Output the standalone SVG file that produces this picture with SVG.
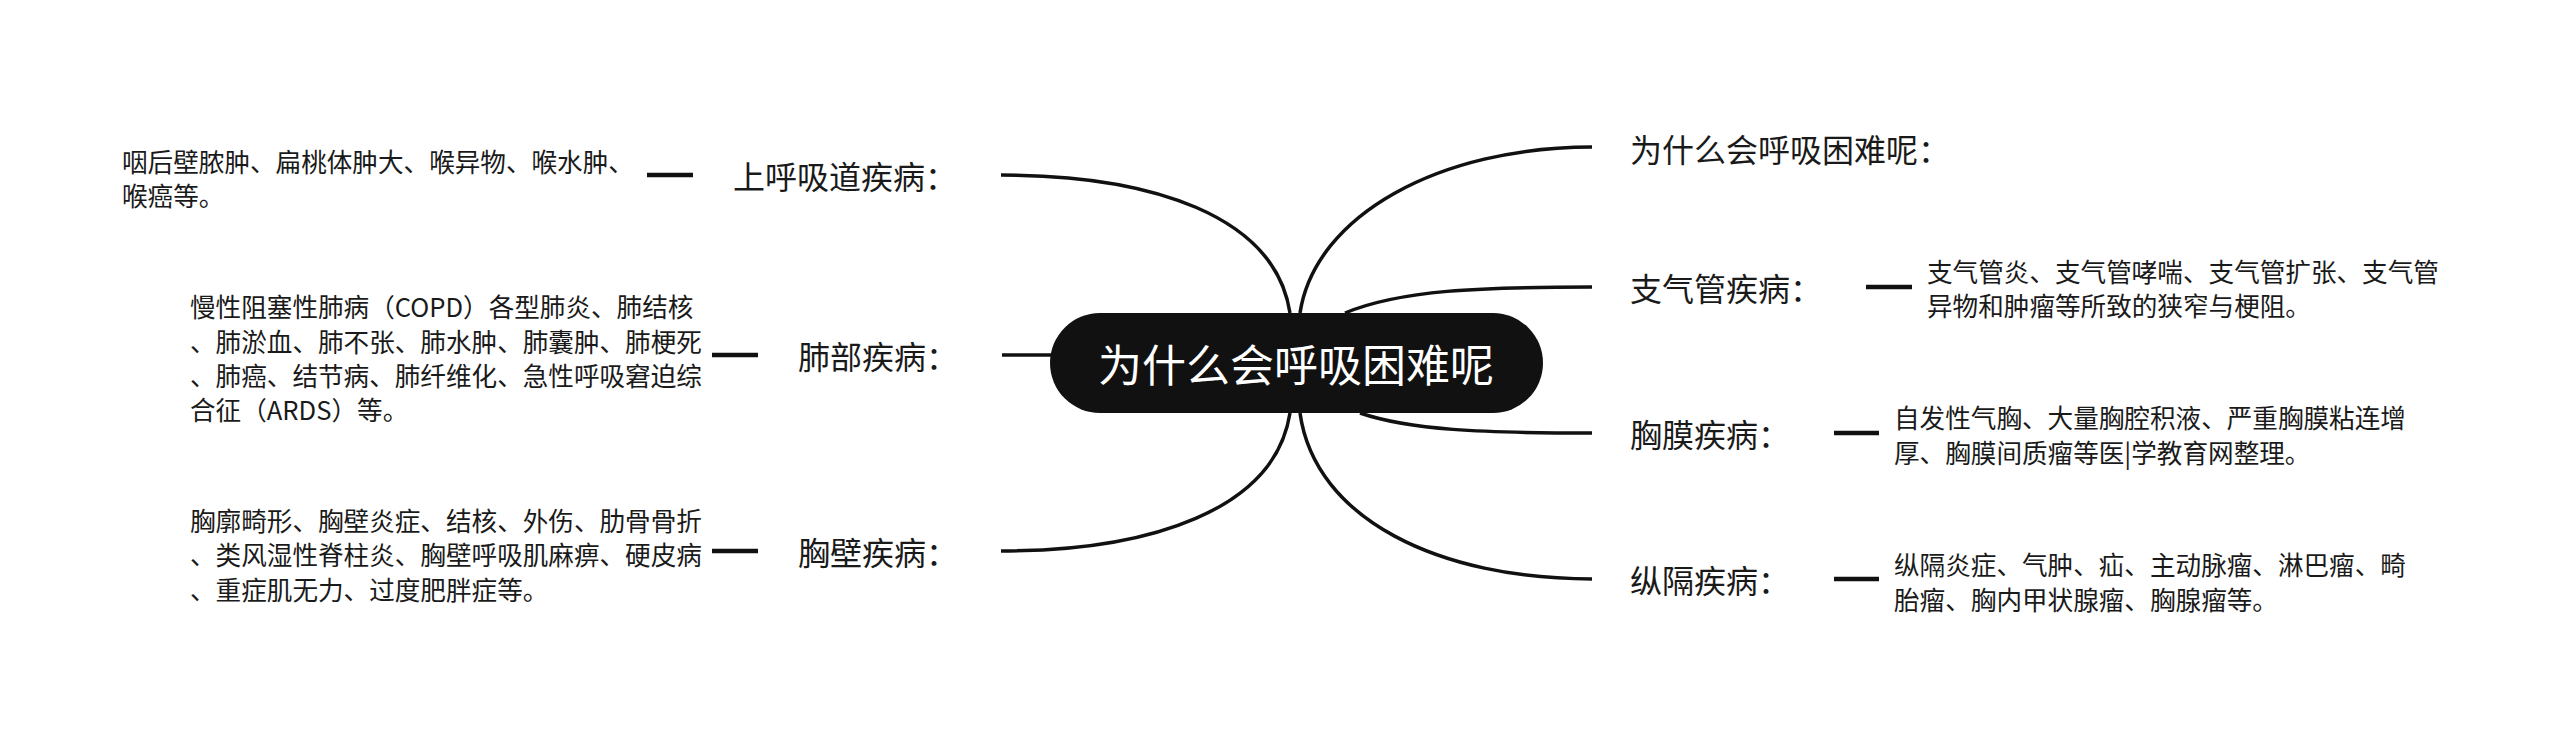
<svg xmlns="http://www.w3.org/2000/svg" width="2560" height="734" viewBox="0 0 2560 734">
<style>
text{font-family:"Noto Sans CJK SC","Noto Sans",sans-serif;fill:#1a1a1a;dominant-baseline:central}
.lbl{font-size:32px}
.det{font-size:25.6px}
.root{font-size:44px;fill:#fff}
.con{fill:none;stroke:#111;stroke-width:3.5}
.dash{stroke:#111;stroke-width:4.5}
</style>
<rect width="2560" height="734" fill="#fff"/>
<g id="connectors">
<path class="con" d="M1001,175 C1150,175 1275,215 1290,313"/>
<path class="con" d="M1002,355 L1052,355"/>
<path class="con" d="M1290,413 C1275,510 1150,551 1001,551"/>
<path class="con" d="M1300,313 C1315,215 1440,147 1592,147"/>
<path class="con" d="M1345,313 C1400,290 1480,287 1592,287"/>
<path class="con" d="M1360,413 C1410,430 1480,433 1592,433"/>
<path class="con" d="M1300,413 C1315,520 1440,579 1592,579"/>
<line class="dash" x1="647" y1="175" x2="693" y2="175"/>
<line class="dash" x1="712" y1="355" x2="758" y2="355"/>
<line class="dash" x1="712" y1="551" x2="758" y2="551"/>
<line class="dash" x1="1866" y1="287" x2="1912" y2="287"/>
<line class="dash" x1="1834" y1="433" x2="1879" y2="433"/>
<line class="dash" x1="1834" y1="579" x2="1879" y2="579"/>
</g>
<g id="root">
<rect x="1050" y="313" width="493" height="100" rx="50" fill="#111"/>
<text class="root" x="1296" y="363" text-anchor="middle">为什么会呼吸困难呢</text>
</g>
<g id="n-upper"><text class="lbl" x="733" y="175">上呼吸道疾病：</text></g>
<g id="n-upper-d"><text class="det" x="122" y="160">咽后壁脓肿、扁桃体肿大、喉异物、喉水肿、</text><text class="det" x="122" y="194">喉癌等。</text></g>
<g id="n-lung"><text class="lbl" x="798" y="355">肺部疾病：</text></g>
<g id="n-lung-d"><text class="det" x="190" y="305">慢性阻塞性肺病（COPD）各型肺炎、肺结核</text><text class="det" x="190" y="340">、肺淤血、肺不张、肺水肿、肺囊肿、肺梗死</text><text class="det" x="190" y="374">、肺癌、结节病、肺纤维化、急性呼吸窘迫综</text><text class="det" x="190" y="408">合征（ARDS）等。</text></g>
<g id="n-wall"><text class="lbl" x="798" y="551">胸壁疾病：</text></g>
<g id="n-wall-d"><text class="det" x="190" y="519">胸廓畸形、胸壁炎症、结核、外伤、肋骨骨折</text><text class="det" x="190" y="553">、类风湿性脊柱炎、胸壁呼吸肌麻痹、硬皮病</text><text class="det" x="190" y="588">、重症肌无力、过度肥胖症等。</text></g>
<g id="n-why"><text class="lbl" x="1630" y="148">为什么会呼吸困难呢：</text></g>
<g id="n-bronch"><text class="lbl" x="1630" y="287">支气管疾病：</text></g>
<g id="n-bronch-d"><text class="det" x="1927" y="270">支气管炎、支气管哮喘、支气管扩张、支气管</text><text class="det" x="1927" y="304">异物和肿瘤等所致的狭窄与梗阻。</text></g>
<g id="n-pleura"><text class="lbl" x="1630" y="433">胸膜疾病：</text></g>
<g id="n-pleura-d"><text class="det" x="1894" y="416">自发性气胸、大量胸腔积液、严重胸膜粘连增</text><text class="det" x="1894" y="451">厚、胸膜间质瘤等医|学教育网整理。</text></g>
<g id="n-med"><text class="lbl" x="1630" y="579">纵隔疾病：</text></g>
<g id="n-med-d"><text class="det" x="1894" y="563">纵隔炎症、气肿、疝、主动脉瘤、淋巴瘤、畸</text><text class="det" x="1894" y="598">胎瘤、胸内甲状腺瘤、胸腺瘤等。</text></g>
</svg>
